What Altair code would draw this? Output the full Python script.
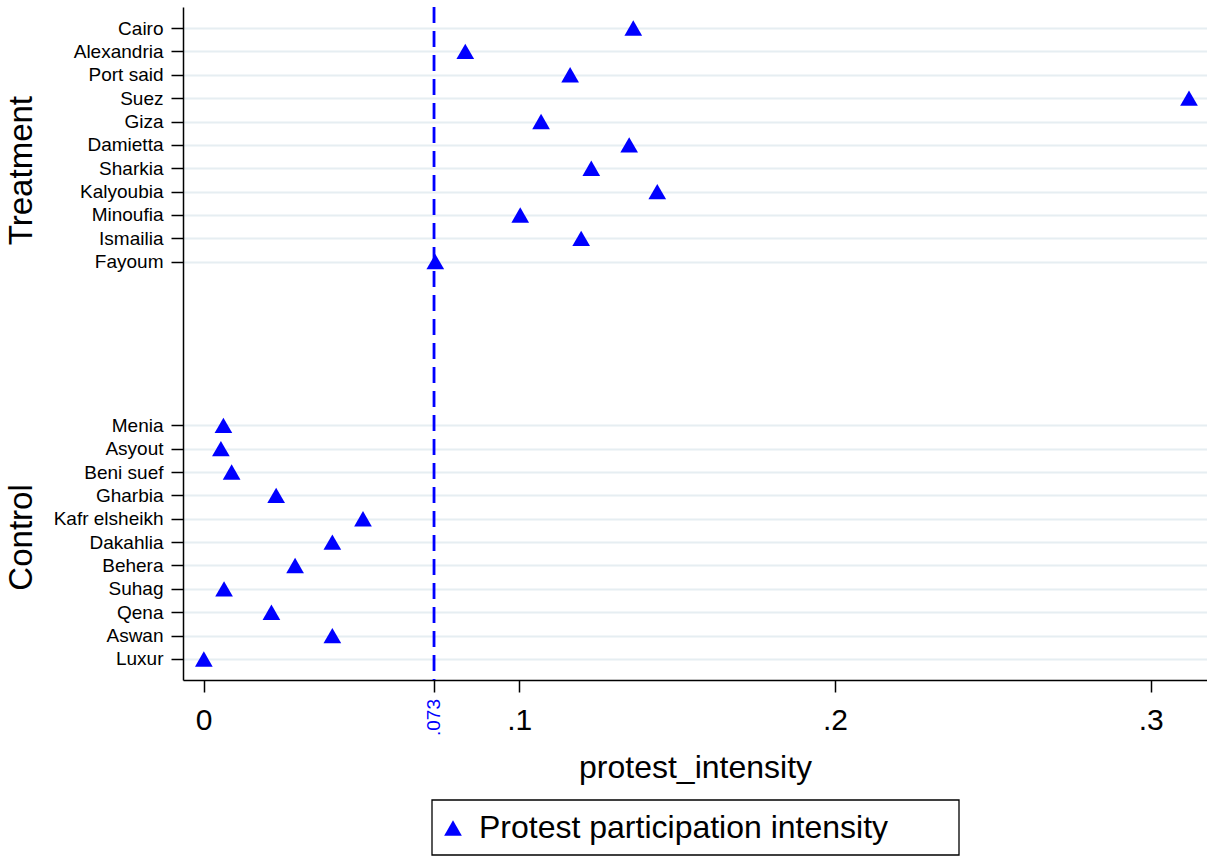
import altair as alt
import pandas as pd

# ---------------- data ----------------
treatment_names = ["Cairo", "Alexandria", "Port said", "Suez", "Giza", "Damietta",
                   "Sharkia", "Kalyoubia", "Minoufia", "Ismailia", "Fayoum"]
treatment_values = [0.1361, 0.0829, 0.1161, 0.3121, 0.1069, 0.1348,
                    0.1228, 0.1437, 0.1003, 0.1196, 0.0734]
control_names = ["Menia", "Asyout", "Beni suef", "Gharbia", "Kafr elsheikh", "Dakahlia",
                 "Behera", "Suhag", "Qena", "Aswan", "Luxur"]
control_values = [0.0063, 0.0055, 0.0089, 0.0230, 0.0505, 0.0408,
                  0.0290, 0.0065, 0.0215, 0.0408, 0.0001]
group_labels = ["Treatment", "Control"]
series_name = "Protest participation intensity"
x_ticks = [0, 0.1, 0.2, 0.3]
cutoff = 0.073
cutoff_label = ".073"
x_title = "protest_intensity"

# ---------------- layout helpers ----------------
GAP = 7
FONT = "Liberation Sans"
BLUE = "#0000ff"

rows = []
for i, (n, v) in enumerate(zip(treatment_names, treatment_values)):
    rows.append(dict(name=n, value=v, pos=i, series=series_name))
start = len(treatment_names) - 1 + GAP
for i, (n, v) in enumerate(zip(control_names, control_values)):
    rows.append(dict(name=n, value=v, pos=start + i, series=series_name))
df = pd.DataFrame(rows)
n_slots = start + len(control_names)
slot_labels = [""] * n_slots
for r in rows:
    slot_labels[r["pos"]] = r["name"]
y_label_expr = "[" + ",".join("'" + s + "'" for s in slot_labels) + "][datum.value]"

x_label_expr = ("datum.value == 0 ? '0' : (abs(datum.value - %s) < 0.0005 ? '' : "
                "replace(format(datum.value, '.1f'), '0.', '.'))" % cutoff)

xscale = alt.Scale(domain=[-0.0065, 0.3178], nice=False, zero=False)
yscale = alt.Scale(domain=[-0.9, n_slots - 1 + 0.9], reverse=True, nice=False, zero=False)

x_axis = alt.Axis(values=x_ticks + [cutoff], labelExpr=x_label_expr, title=x_title,
                  grid=False, labelFontSize=30, labelPadding=13, titleFontSize=32,
                  titlePadding=17, titleFont=FONT, titleFontWeight="normal",
                  titleColor="black", labelFlush=False, labelOverlap=False)
y_axis = alt.Axis(values=list(df["pos"]), labelExpr=y_label_expr, title=None,
                  grid=True, gridColor="#e6eef2", gridWidth=2, labelFontSize=19,
                  labelPadding=8, labelFlush=False, labelOverlap=False)

x_enc = alt.X("value:Q", scale=xscale, axis=x_axis)
y_enc = alt.Y("pos:Q", scale=yscale, axis=y_axis)

rule = alt.Chart(pd.DataFrame({"value": [cutoff]})).mark_rule(
    color=BLUE, strokeWidth=2.8, strokeDash=[16, 8]
).encode(x=x_enc)

points = alt.Chart(df).mark_point(
    shape="triangle-up", filled=True, size=313, opacity=1, strokeWidth=0
).encode(
    x=x_enc,
    y=y_enc,
    color=alt.Color("series:N", scale=alt.Scale(range=[BLUE]),
                    legend=alt.Legend(title=None, orient="none", legendX=254, legendY=805,
                                      symbolType="triangle-up", symbolSize=313,
                                      symbolStrokeWidth=0, symbolOpacity=1,
                                      labelFontSize=32, labelFont=FONT, labelColor="black",
                                      labelOffset=10, padding=0, labelLimit=1000)),
)

cutoff_text = alt.Chart(pd.DataFrame({"value": [cutoff], "lab": [cutoff_label]})).mark_text(
    angle=270, align="right", baseline="middle", fontSize=19, color=BLUE, font=FONT
).encode(x=x_enc, y=alt.value(692), text="lab:N")

group_df = pd.DataFrame({"grp": group_labels, "pos": [6.1, 21.8]})
group_text = alt.Chart(group_df).mark_text(
    angle=270, align="center", baseline="middle", fontSize=33, color="black", font=FONT
).encode(x=alt.value(-161), y=y_enc, text="grp:N")

legend_box = alt.Chart(pd.DataFrame({"k": [0]})).mark_rect(
    fillOpacity=0, stroke="black", strokeWidth=1.3
).encode(x=alt.value(249), x2=alt.value(776), y=alt.value(793), y2=alt.value(848))

chart = alt.layer(rule, points, cutoff_text, group_text, legend_box).properties(
    width=1024, height=673,
    padding={"left": 183, "top": 7, "right": 0, "bottom": 177},
    autosize=alt.AutoSizeParams(type="none"),
    background="white",
).configure_view(stroke=None).configure_axis(
    domainColor="black", domainWidth=1.5, tickColor="black", tickWidth=1.5,
    tickSize=12, labelFont=FONT, labelColor="black"
)

chart.save("out.html", embed_options={"renderer": "svg", "actions": False})
